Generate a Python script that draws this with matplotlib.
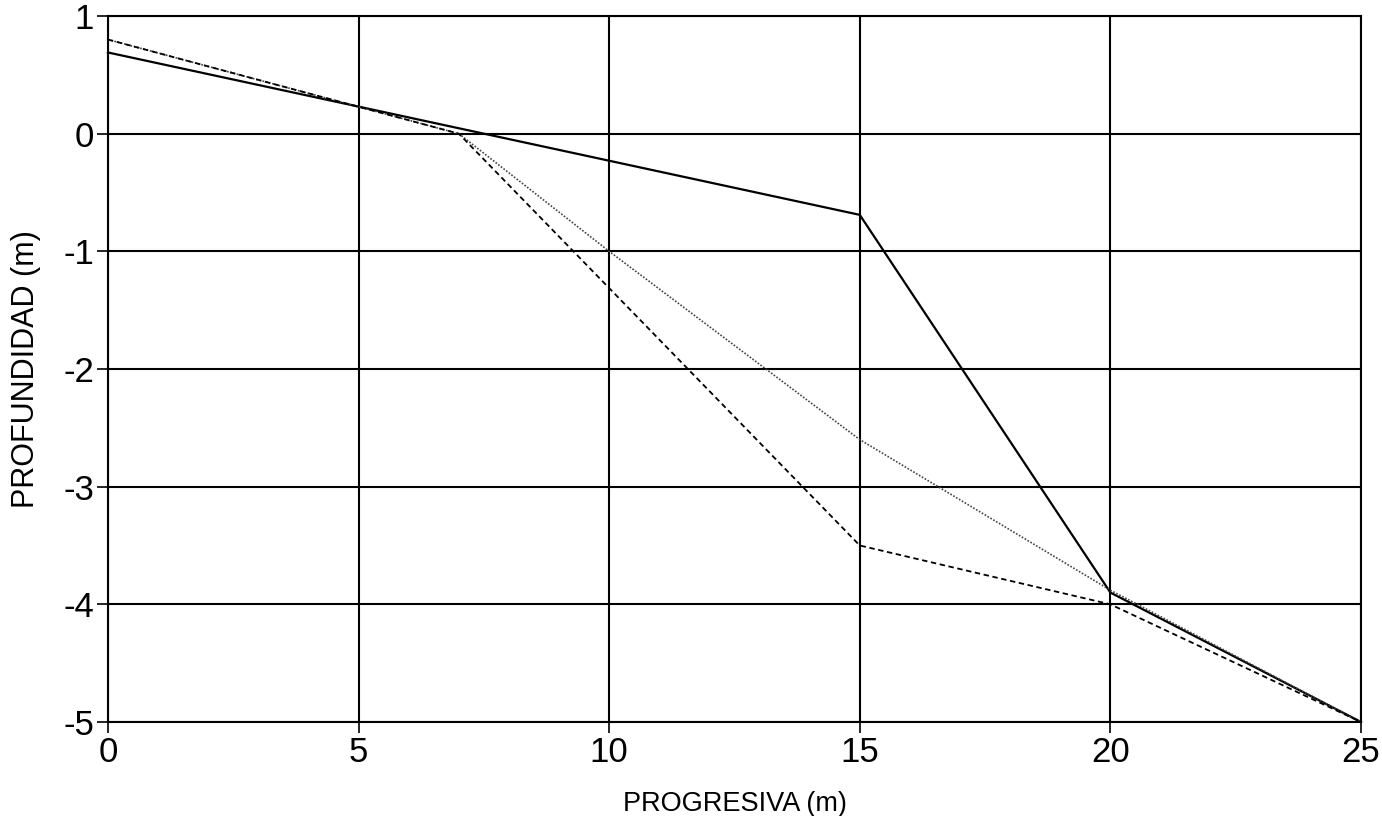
import matplotlib
matplotlib.use("Agg")
from matplotlib import pyplot as plt

plt.rcParams['font.family'] = ['Liberation Sans', 'DejaVu Sans']

# progresiva (m) vs profundidad (m), three profiles
x_solid = [0, 15, 20, 25]
y_solid = [0.69, -0.69, -3.9, -5.0]

x_dotted = [0, 7, 10, 15, 20, 25]
y_dotted = [0.8, 0.0, -1.0, -2.6, -3.88, -5.0]

x_dashed = [0, 7, 15, 20, 25]
y_dashed = [0.8, 0.0, -3.5, -4.0, -5.0]

x_ticks = [0, 5, 10, 15, 20, 25]
y_ticks = [1, 0, -1, -2, -3, -4, -5]

fig = plt.figure(figsize=(13.82, 8.16), dpi=100)
ax = fig.add_axes([0.0781, 0.1152, 0.9067, 0.8652])

ax.set_xlim(0, 25)
ax.set_ylim(-5, 1)
ax.set_xticks(x_ticks)
ax.set_yticks(y_ticks)
ax.set_xticklabels([str(t) for t in x_ticks])
ax.set_yticklabels([str(t) for t in y_ticks])

ax.grid(True, color='black', lw=1.5)
ax.set_axisbelow(True)
for sp in ax.spines.values():
    sp.set_linewidth(1.5)

ax.tick_params(direction='out', length=8, width=1.2, labelsize=25, pad=2)

ax.plot(x_solid, y_solid, color='black', lw=1.6, clip_on=False)
ax.plot(x_dotted, y_dotted, color='#444444', lw=1.2, ls=(0, (1, 1)), clip_on=False)
ax.plot(x_dashed, y_dashed, color='black', lw=1.3, ls=(0, (3, 2)), clip_on=False)

ax.set_xlabel('PROGRESIVA (m)', fontsize=19.5, labelpad=16)
ax.set_ylabel('PROFUNDIDAD (m)', fontsize=22, labelpad=16)

fig.savefig('out.png', dpi=100)
